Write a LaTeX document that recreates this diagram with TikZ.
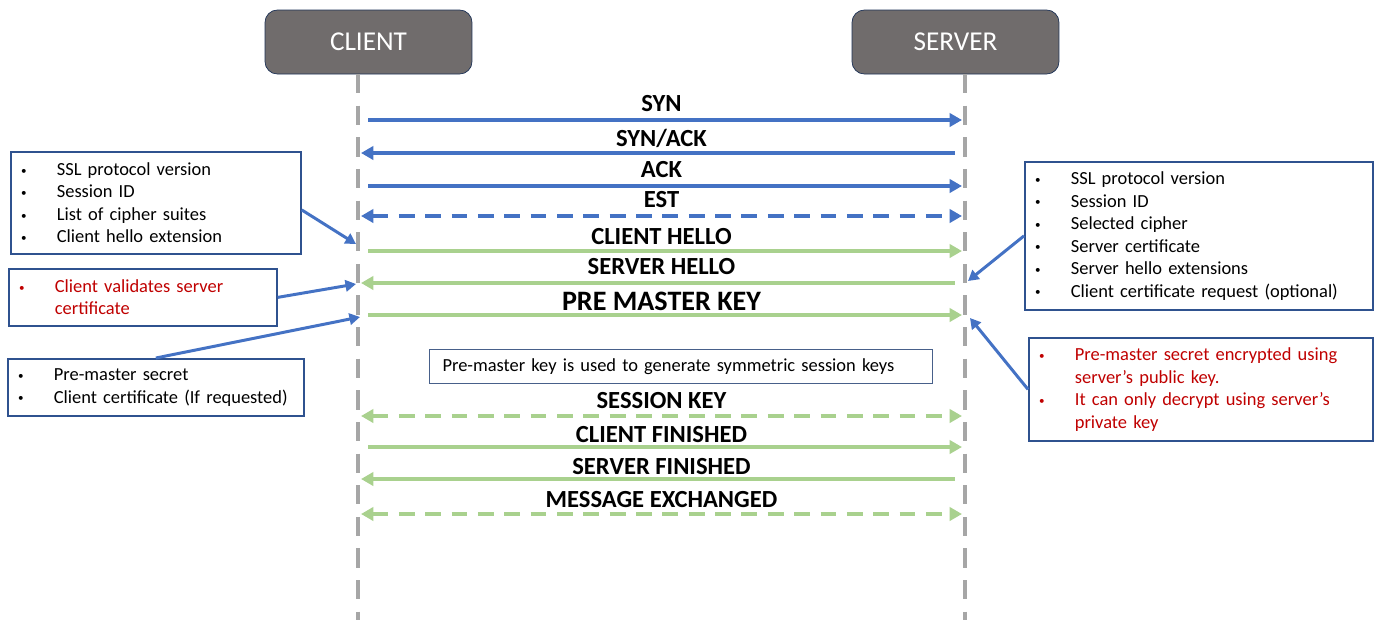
\documentclass[tikz,border=0pt]{standalone}
\usepackage{fontspec}
\setmainfont{Carlito}
\usetikzlibrary{arrows.meta}
\usetikzlibrary{positioning}

\definecolor{msgblue}{RGB}{68,114,196}
\definecolor{msggreen}{RGB}{169,209,142}
\definecolor{actorgray}{RGB}{112,108,108}
\definecolor{noteblue}{RGB}{47,82,143}
\definecolor{notered}{RGB}{192,0,0}
\definecolor{lifegray}{RGB}{166,166,166}

% bullet line and continuation line inside the note boxes
\newcommand{\itm}[1]{\hspace*{0.26cm}\makebox[0pt]{\raisebox{0.15ex}{\scalebox{0.6}{\textbullet}}}\hspace*{0.66cm}#1}
\newcommand{\cnt}[1]{\hspace*{0.92cm}#1}

\begin{document}
\begin{tikzpicture}[x=0.02cm, y=-0.02cm,
  actor/.style={draw=noteblue!60!black, fill=actorgray, rounded corners=7pt, minimum width=4.14cm, minimum height=1.28cm, text=white, font=\fontsize{15.5}{18}\selectfont},
  note/.style 2 args={draw=noteblue, line width=1pt, fill=white, anchor=north west, inner xsep=0pt, inner ysep=0pt, align=left, text width=#1, minimum width=#1, minimum height=#2, font=\fontsize{10.5}{12.8}\selectfont},
  life/.style={lifegray, line width=2.3pt, dash pattern=on 11pt off 7pt},
  tcp/.style={msgblue, line width=2pt, shorten <=4pt, -{Triangle[length=7pt,width=7.5pt]}},
  tcpboth/.style={msgblue, line width=2pt, dash pattern=on 9pt off 6pt, {Triangle[length=7pt,width=7.5pt]}-{Triangle[length=7pt,width=7.5pt]}},
  tls/.style={tcp, msggreen, line width=2.2pt},
  tlsboth/.style={tcpboth, msggreen, line width=2.2pt},
  lbl/.style={inner sep=0pt, text depth=0pt, text=black, font=\bfseries\fontsize{14}{16}\selectfont},
  callout/.style={msgblue, line width=1.7pt, -{Triangle[length=6pt,width=6.5pt]}}]
\useasboundingbox (0,0) rectangle (1374,620);

% actors and life lines
\node[actor] (client) at (368.5,42) {CLIENT};
\node[actor] (server) at (955.5,42) {SERVER};
\coordinate (ctop) at (358,74);
\coordinate (cbot) at (358,620);
\coordinate (stop) at (965,74);
\coordinate (sbot) at (965,620);
\draw[life] (ctop) -- (cbot);
\draw[life] (stop) -- (sbot);

\foreach \n/\y in {syn/120,synack/153,ack/186,est/216,chello/251,shello/283,pmk/315,skey/416,cfin/447,sfin/479,mex/514}{
  \coordinate (c\n) at (361,\y);
  \coordinate (s\n) at (962,\y);
}

% tcp handshake
\draw[tcp] (csyn) -- node[midway, lbl, above=4pt] {SYN} (ssyn);
\draw[tcp] (ssynack) -- node[midway, lbl, above=2.5pt] {SYN/ACK} (csynack);
\draw[tcp] (cack) -- node[midway, lbl, above=4pt] {ACK} (sack);
\draw[tcpboth] (cest) -- node[midway, lbl, above=4pt] {EST} (sest);

% ssl handshake
\draw[tls] (cchello) -- node[midway, lbl, above=2.5pt] {CLIENT HELLO} (schello);
\draw[tls] (sshello) -- node[midway, lbl, above=4pt] {SERVER HELLO} (cshello);
\draw[tls] (cpmk) -- node[midway, lbl, above=1.5pt, font=\bfseries\fontsize{16}{18}\selectfont] {PRE MASTER KEY} (spmk);
\node[draw=noteblue!70!gray, line width=0.6pt, anchor=north west, minimum height=0.68cm, inner xsep=0.26cm, text width=9.54cm, align=left, font=\fontsize{10.5}{12.8}\selectfont] (gen) at (429,349) {Pre-master key is used to generate symmetric session keys};
\draw[tlsboth] (cskey) -- node[midway, lbl, above=3pt] {SESSION KEY} (sskey);
\draw[tls] (ccfin) -- node[midway, lbl, above=1.5pt] {CLIENT FINISHED} (scfin);
\draw[tls] (ssfin) -- node[midway, lbl, above=1.5pt] {SERVER FINISHED} (csfin);
\draw[tlsboth] (cmex) -- node[midway, lbl, above=2.5pt] {MESSAGE EXCHANGED} (smex);

% notes on the client side
\node[note={5.8cm}{2.04cm}] (chello) at (10,151) {\itm{SSL protocol version}\\ \itm{Session ID}\\ \itm{List of cipher suites}\\ \itm{Client hello extension}};
\node[note={5.36cm}{1.14cm}, text=notered] (cvalid) at (8,268) {\itm{Client validates server}\\ \cnt{certificate}};
\node[note={5.92cm}{1.14cm}] (cpms) at (7,358) {\itm{Pre-master secret}\\ \itm{Client certificate (If requested)}};

% notes on the server side
\node[note={6.96cm}{2.96cm}] (shello) at (1024,161) {\itm{SSL protocol version}\\ \itm{Session ID}\\ \itm{Selected cipher}\\ \itm{Server certificate}\\ \itm{Server hello extensions}\\ \itm{Client certificate request (optional)}};
\node[note={6.88cm}{2.06cm}, text=notered] (spms) at (1028,337) {\itm{Pre-master secret encrypted using}\\ \cnt{server’s public key.}\\ \itm{It can only decrypt using server’s}\\ \cnt{private key}};

% callouts
\coordinate (tchello) at (356,244);
\coordinate (tvalid) at (356,284);
\coordinate (tcpms) at (360,317);
\coordinate (tshello) at (968,281);
\coordinate (tspms) at (970,318);
\draw[callout] ([yshift=-4pt]chello.east) -- (tchello);
\draw[callout] (cvalid.east) -- (tvalid);
\draw[callout] (cpms.north) -- (tcpms);
\draw[callout] (shello.west) -- (tshello);
\draw[callout] (spms.west) -- (tspms);
\end{tikzpicture}
\end{document}
